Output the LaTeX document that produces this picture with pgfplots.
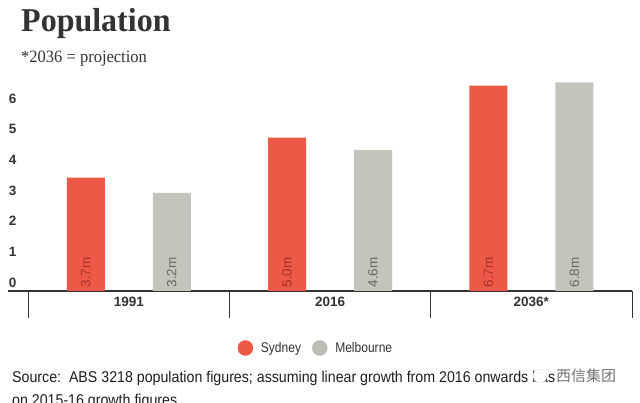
\documentclass[border=0pt]{standalone}
\usepackage{fontspec}
\setmainfont{Liberation Sans}
\newfontfamily\serifttl{Liberation Serif}
\newfontfamily\condfont[FakeStretch=0.86]{Liberation Sans}
\newfontfamily\cjk{Noto Sans CJK SC}
\usepackage{graphicx}
\usepackage{pgfplots}
\pgfplotsset{compat=1.18}
\definecolor{syd}{RGB}{238,88,70}
\definecolor{mel}{RGB}{196,196,188}
\definecolor{sydtxt}{RGB}{165,50,40}
\definecolor{meltxt}{RGB}{105,105,100}
\definecolor{txt}{RGB}{51,51,51}
\begin{document}
\begin{tikzpicture}[x=1pt,y=1pt]
\clip (0,0) rectangle (640,403);
\fill[white] (0,0) rectangle (640,403);
\node[anchor=base west, inner sep=0, font=\serifttl\bfseries\fontsize{32}{36}\selectfont, text=txt] at (21,371) {\scalebox{1}[1.04]{Population}};
\node[anchor=base west, inner sep=0, font=\serifttl\fontsize{16.5}{19}\selectfont, text=txt] at (21,340) {\scalebox{1}[1.05]{*2036 = projection}};
\begin{axis}[
  at={(8pt,112pt)}, anchor=south west,
  scale only axis, width=624pt, height=220.8pt,
  xmin=-0.6, xmax=2.5, ymin=0, ymax=7.2,
  axis x line=bottom, axis y line=left,
  x axis line style={-, draw=txt, line width=1.3pt},
  y axis line style={draw=none},
  xtick={0,1,2}, xticklabels={1991,2016,2036*},
  major tick length=0pt,
  extra x ticks={-0.5,0.5,1.5,2.5}, extra x tick labels={},
  extra x tick style={tick align=outside, major tick length=27pt, tick style={draw=txt, line width=0.8pt}},
  xticklabel style={anchor=north, inner sep=0pt, yshift=-6pt, font=\bfseries\fontsize{13.5}{15}\selectfont, text=txt},
  ytick={0,1,2,3,4,5,6},
  yticklabel style={anchor=south west, inner sep=0pt, xshift=0.7pt, yshift=3.5pt, font=\bfseries\fontsize{13.5}{15}\selectfont, text=txt},
  /pgf/number format/assume math mode=true,
  legend columns=2,
  legend style={at={(0.3678,-0.2582)}, anchor=west, draw=none, fill=none, inner sep=0pt,
    nodes={inner sep=0pt}, font=\condfont\fontsize{14}{16}\selectfont, text=txt,
    /tikz/every even column/.append style={column sep=11pt}},
  clip=false,
]
\addplot[ybar, bar width=38pt, bar shift=-43pt, fill=syd, draw=none, forget plot] coordinates {(0,3.7) (1,5.0) (2,6.7)};
\addplot[ybar, bar width=38pt, bar shift=43pt, fill=mel, draw=none, forget plot] coordinates {(0,3.2) (1,4.6) (2,6.8)};
\addplot[draw=none, mark=none, forget plot, nodes near coords, point meta=explicit symbolic,
  nodes near coords style={xshift=-43pt, yshift=3.5pt, rotate=90, anchor=west, inner sep=0pt, font=\fontsize{13.5}{15}\selectfont, text=sydtxt}]
  table[meta=lab] {
x y lab
0 0 3.7m
1 0 5.0m
2 0 6.7m
};
\addplot[draw=none, mark=none, forget plot, nodes near coords, point meta=explicit symbolic,
  nodes near coords style={xshift=43pt, yshift=3.5pt, rotate=90, anchor=west, inner sep=0pt, font=\fontsize{13.5}{15}\selectfont, text=meltxt}]
  table[meta=lab] {
x y lab
0 0 3.2m
1 0 4.6m
2 0 6.8m
};
\addlegendimage{legend image code/.code={\fill[syd] (7.5pt,0pt) circle (7.5pt); \path[draw=none] (0pt,0pt) -- (23pt,0pt);}}
\addlegendentry{Sydney}
\addlegendimage{legend image code/.code={\fill[mel!90!gray] (7.5pt,0pt) circle (7.5pt); \path[draw=none] (0pt,0pt) -- (23pt,0pt);}}
\addlegendentry{Melbourne}
\end{axis}
\node[anchor=base west, inner sep=0, font=\fontsize{14.2}{21}\selectfont, text=black!88] at (12,20) {\scalebox{1}[1.1]{Source:\ \ ABS 3218 population figures; assuming linear growth from 2016 onwards based}};
\node[anchor=base west, inner sep=0, font=\fontsize{14.2}{21}\selectfont, text=black!88] at (12,-2.5) {\scalebox{1}[1.1]{on 2015-16 growth figures}};
\draw[gray!60, densely dotted, fill=white] (540,27) circle (7);
\node[anchor=west, fill=white, inner sep=1pt, font=\cjk\fontsize{15}{16}\selectfont, text=black!55] at (555,27) {西信集团};
\end{tikzpicture}
\end{document}
